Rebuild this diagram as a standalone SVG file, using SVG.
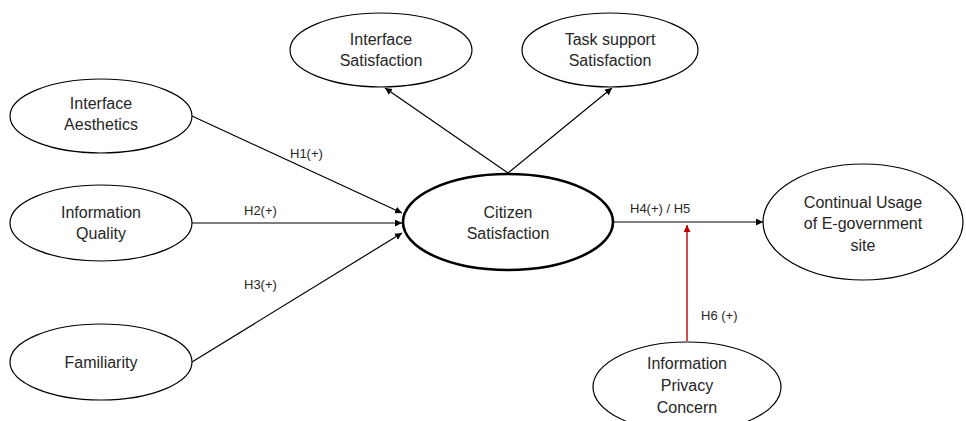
<svg xmlns="http://www.w3.org/2000/svg" width="966" height="421" viewBox="0 0 966 421">
<style>
.n{fill:#fff;stroke:#000;stroke-width:1.2}
.b{fill:#fff;stroke:#000;stroke-width:2.6}
.t{font-family:"Liberation Sans",Arial,sans-serif;font-size:16px;fill:#262626;text-anchor:middle}
.l{font-family:"Liberation Sans",Arial,sans-serif;font-size:13px;fill:#262626}
.c{stroke:#000;stroke-width:1.2;fill:none;marker-end:url(#a)}
.r{stroke:#c00000;stroke-width:1.4;fill:none;marker-end:url(#ar)}
</style>
<defs>
<marker id="a" markerUnits="userSpaceOnUse" markerWidth="8" markerHeight="8" refX="7" refY="3.5" orient="auto"><path d="M0,0 L7,3.5 L0,7 z" fill="#000"/></marker>
<marker id="ar" markerUnits="userSpaceOnUse" markerWidth="8" markerHeight="8" refX="7" refY="3.5" orient="auto"><path d="M0,0 L7,3.5 L0,7 z" fill="#c00000"/></marker>
</defs>
<rect width="966" height="421" fill="#fff"/>
<g id="connectors">
<line class="c" x1="192" y1="116" x2="402" y2="213"/>
<line class="c" x1="192" y1="223" x2="402" y2="223"/>
<line class="c" x1="192" y1="362" x2="402" y2="233"/>
<line class="c" x1="508" y1="173" x2="385" y2="88"/>
<line class="c" x1="508" y1="173" x2="612" y2="88"/>
<line class="c" x1="613" y1="222" x2="763" y2="222"/>
<line class="r" x1="687" y1="341" x2="687" y2="225"/>
<text class="l" x="290" y="158">H1(+)</text>
<text class="l" x="244" y="215">H2(+)</text>
<text class="l" x="244" y="289">H3(+)</text>
<text class="l" x="630" y="213">H4(+) / H5</text>
<text class="l" x="701" y="320">H6 (+)</text>
</g>
<g id="interface-satisfaction">
<ellipse class="n" cx="381" cy="50" rx="91" ry="37"/>
<text class="t" x="381" y="45">Interface</text>
<text class="t" x="381" y="66">Satisfaction</text>
</g>
<g id="task-support-satisfaction">
<ellipse class="n" cx="610" cy="50" rx="88" ry="37"/>
<text class="t" x="610" y="45">Task support</text>
<text class="t" x="610" y="66">Satisfaction</text>
</g>
<g id="interface-aesthetics">
<ellipse class="n" cx="101" cy="116" rx="91" ry="37"/>
<text class="t" x="101" y="109">Interface</text>
<text class="t" x="101" y="130">Aesthetics</text>
</g>
<g id="information-quality">
<ellipse class="n" cx="101" cy="223" rx="91" ry="38"/>
<text class="t" x="101" y="218">Information</text>
<text class="t" x="101" y="239">Quality</text>
</g>
<g id="familiarity">
<ellipse class="n" cx="101" cy="362" rx="91" ry="38"/>
<text class="t" x="101" y="368">Familiarity</text>
</g>
<g id="citizen-satisfaction">
<ellipse class="b" cx="508" cy="222" rx="105" ry="48"/>
<text class="t" x="508" y="218">Citizen</text>
<text class="t" x="508" y="239">Satisfaction</text>
</g>
<g id="continual-usage">
<ellipse class="n" cx="863" cy="222" rx="100" ry="58"/>
<text class="t" x="863" y="208">Continual Usage</text>
<text class="t" x="863" y="229">of E-government</text>
<text class="t" x="863" y="251">site</text>
</g>
<g id="information-privacy-concern">
<ellipse class="n" cx="687" cy="387" rx="94" ry="45"/>
<text class="t" x="687" y="369">Information</text>
<text class="t" x="687" y="391">Privacy</text>
<text class="t" x="687" y="413">Concern</text>
</g>
</svg>
